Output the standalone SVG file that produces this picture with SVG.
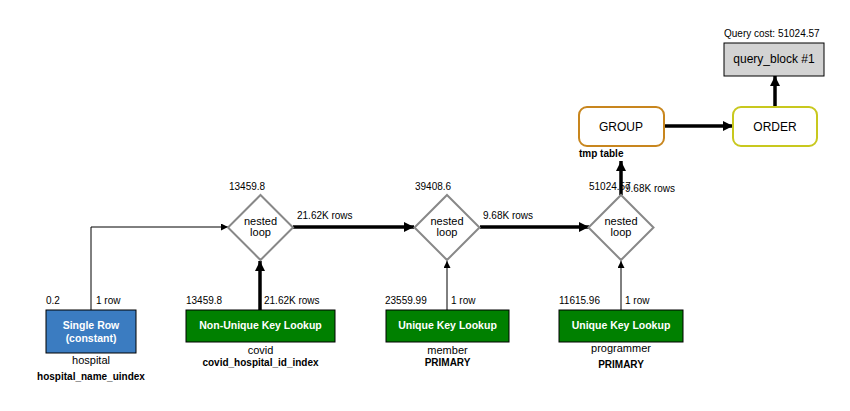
<svg xmlns="http://www.w3.org/2000/svg" width="850" height="411" viewBox="0 0 850 411">
<style>
text{font-family:"Liberation Sans",Arial,Helvetica,sans-serif;fill:#000}
.s{font-size:10px}
.b{font-size:10px;font-weight:bold}
.m{font-size:11px}
.l{font-size:12px}
.w{font-size:10.5px;font-weight:bold;fill:#fff}
.thin{stroke:#000;stroke-width:1;fill:none}
.thick{stroke:#000;stroke-width:3.5;fill:none}
.dia{fill:#fff;stroke:#888;stroke-width:2}
.op{fill:#008000;stroke:#000;stroke-width:1}
</style>
<defs>
<marker id="at" viewBox="0 0 10 10" refX="10" refY="5" markerWidth="9" markerHeight="7" markerUnits="userSpaceOnUse" orient="auto"><path d="M0,0L10,5L0,10z" fill="#000"/></marker>
<marker id="aT" viewBox="0 0 10 10" refX="10" refY="5" markerWidth="12" markerHeight="10" markerUnits="userSpaceOnUse" orient="auto"><path d="M0,0L10,5L0,10z" fill="#000"/></marker>
</defs>
<rect width="850" height="411" fill="#fff"/>
<g id="connectors">
<path class="thin" d="M91,310V227H228" marker-end="url(#at)"/>
<path class="thick" d="M260,310V261" marker-end="url(#aT)"/>
<path class="thick" d="M293,227H414" marker-end="url(#aT)"/>
<path class="thin" d="M447,310V261" marker-end="url(#at)"/>
<path class="thick" d="M480,227H589" marker-end="url(#aT)"/>
<path class="thin" d="M621,310V261" marker-end="url(#at)"/>
<path class="thick" d="M621,195V161" marker-end="url(#aT)"/>
<path class="thick" d="M664,126H733" marker-end="url(#aT)"/>
<path class="thick" d="M775,107V76" marker-end="url(#aT)"/>
<text class="s" x="96" y="304">1 row</text>
<text class="s" x="264" y="304">21.62K rows</text>
<text class="s" x="297" y="219">21.62K rows</text>
<text class="s" x="451" y="304">1 row</text>
<text class="s" x="483" y="219">9.68K rows</text>
<text class="s" x="625" y="304">1 row</text>
<text class="s" x="625" y="192">9.68K rows</text>
</g>
<g id="query_block">
<text class="s" x="724" y="37">Query cost: 51024.57</text>
<rect x="724" y="43" width="100" height="33" fill="#d3d3d3" stroke="#000" stroke-width="1"/>
<text class="l" x="774" y="63" text-anchor="middle">query_block #1</text>
</g>
<g id="order">
<rect x="733" y="107" width="84" height="39" rx="8" fill="#fff" stroke="#c8c81e" stroke-width="2"/>
<text class="l" x="775" y="131" text-anchor="middle">ORDER</text>
</g>
<g id="group">
<rect x="579" y="107" width="85" height="39" rx="8" fill="#fff" stroke="#c8861e" stroke-width="2"/>
<text class="l" x="621" y="131" text-anchor="middle">GROUP</text>
<text class="b" x="579" y="157">tmp table</text>
</g>
<g id="nested_loop_1">
<text class="s" x="229" y="190">13459.8</text>
<polygon class="dia" points="260.5,195 293,227.5 260.5,260 228,227.5"/>
<text class="m" x="260.5" y="225" text-anchor="middle">nested</text>
<text class="m" x="260.5" y="236" text-anchor="middle">loop</text>
</g>
<g id="nested_loop_2">
<text class="s" x="415" y="190">39408.6</text>
<polygon class="dia" points="447,195 479.5,227.5 447,260 414.5,227.5"/>
<text class="m" x="447" y="225" text-anchor="middle">nested</text>
<text class="m" x="447" y="236" text-anchor="middle">loop</text>
</g>
<g id="nested_loop_3">
<text class="s" x="589" y="190">51024.57</text>
<polygon class="dia" points="621,195 653.5,227.5 621,260 588.5,227.5"/>
<text class="m" x="621" y="225" text-anchor="middle">nested</text>
<text class="m" x="621" y="236" text-anchor="middle">loop</text>
</g>
<g id="hospital">
<text class="s" x="46" y="304">0.2</text>
<rect x="46" y="310" width="90" height="43" fill="#3b7cc1" stroke="#000" stroke-width="1"/>
<text class="w" x="91" y="329" text-anchor="middle">Single Row</text>
<text class="w" x="91" y="342" text-anchor="middle">(constant)</text>
<text class="m" x="91" y="364" text-anchor="middle">hospital</text>
<text class="b" x="91" y="380" text-anchor="middle">hospital_name_uindex</text>
</g>
<g id="covid">
<text class="s" x="186" y="304">13459.8</text>
<rect class="op" x="186" y="310" width="149" height="32"/>
<text class="w" x="260.5" y="329" text-anchor="middle">Non-Unique Key Lookup</text>
<text class="m" x="260.5" y="354" text-anchor="middle">covid</text>
<text class="b" x="260.5" y="366" text-anchor="middle">covid_hospital_id_index</text>
</g>
<g id="member">
<text class="s" x="385" y="304">23559.99</text>
<rect class="op" x="386" y="310" width="123" height="32"/>
<text class="w" x="447.5" y="329" text-anchor="middle">Unique Key Lookup</text>
<text class="m" x="447.5" y="354" text-anchor="middle">member</text>
<text class="b" x="447.5" y="366" text-anchor="middle">PRIMARY</text>
</g>
<g id="programmer">
<text class="s" x="559" y="304">11615.96</text>
<rect class="op" x="559" y="310" width="124" height="32"/>
<text class="w" x="621" y="329" text-anchor="middle">Unique Key Lookup</text>
<text class="m" x="621" y="352" text-anchor="middle">programmer</text>
<text class="b" x="621" y="368" text-anchor="middle">PRIMARY</text>
</g>
</svg>
